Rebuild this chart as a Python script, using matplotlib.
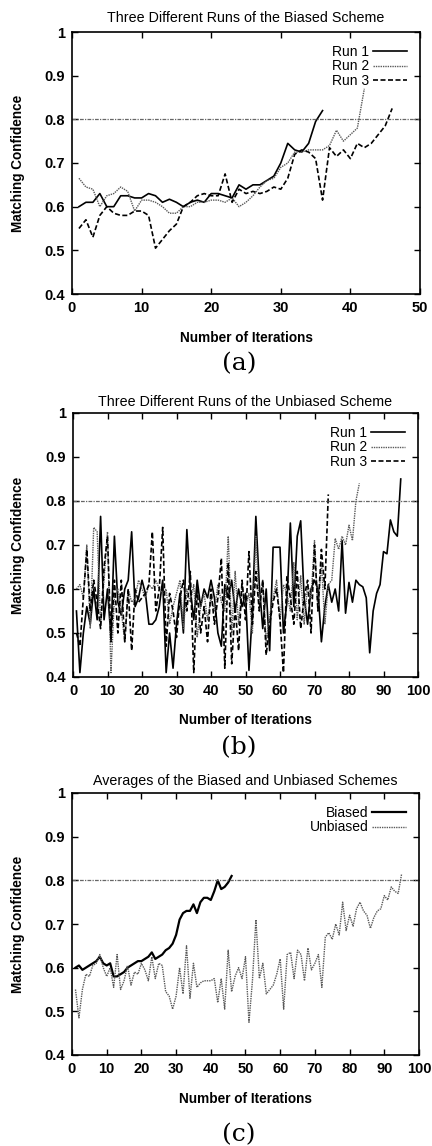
import matplotlib
matplotlib.use('Agg')
import matplotlib.pyplot as plt
import numpy as np

plt.rcParams['font.family'] = ['Liberation Sans', 'DejaVu Sans']

# (a) biased scheme, three runs
biased_run1 = [0.60, 0.61, 0.61, 0.63, 0.60, 0.60, 0.625, 0.625, 0.62, 0.62,
               0.63, 0.625, 0.61, 0.617, 0.61, 0.60, 0.61, 0.615, 0.61, 0.63,
               0.63, 0.625, 0.62, 0.65, 0.64, 0.65, 0.65, 0.66, 0.67, 0.70,
               0.745, 0.73, 0.725, 0.745, 0.795, 0.82]
biased_run2 = [0.665, 0.645, 0.64, 0.60, 0.625, 0.63, 0.645, 0.635, 0.59, 0.615,
               0.615, 0.61, 0.60, 0.585, 0.585, 0.60, 0.60, 0.61, 0.61, 0.615,
               0.615, 0.61, 0.62, 0.60, 0.61, 0.625, 0.645, 0.66, 0.665, 0.69,
               0.70, 0.725, 0.725, 0.73, 0.73, 0.73, 0.74, 0.775, 0.75, 0.765,
               0.78, 0.87]
biased_run3 = [0.55, 0.57, 0.53, 0.58, 0.60, 0.585, 0.58, 0.58, 0.59, 0.59,
               0.58, 0.505, 0.525, 0.545, 0.56, 0.60, 0.61, 0.625, 0.63, 0.625,
               0.625, 0.675, 0.61, 0.64, 0.63, 0.635, 0.63, 0.635, 0.645, 0.64,
               0.665, 0.72, 0.73, 0.725, 0.71, 0.615, 0.735, 0.715, 0.73, 0.71,
               0.745, 0.735, 0.745, 0.765, 0.785, 0.825]

# (b) unbiased scheme, three runs
unbiased_run1 = [0.55, 0.41, 0.50, 0.56, 0.52, 0.60, 0.53, 0.765, 0.53, 0.60,
                 0.49, 0.72, 0.57, 0.54, 0.60, 0.62, 0.73, 0.56, 0.58, 0.62,
                 0.59, 0.52, 0.52, 0.53, 0.56, 0.62, 0.41, 0.50, 0.42, 0.52,
                 0.59, 0.50, 0.735, 0.60, 0.53, 0.62, 0.56, 0.60, 0.58, 0.62,
                 0.58, 0.50, 0.47, 0.61, 0.58, 0.62, 0.55, 0.60, 0.56, 0.59,
                 0.415, 0.55, 0.765, 0.61, 0.51, 0.60, 0.46, 0.695, 0.695, 0.695,
                 0.50, 0.57, 0.75, 0.56, 0.72, 0.755, 0.58, 0.52, 0.60, 0.62,
                 0.60, 0.48, 0.56, 0.61, 0.57, 0.60, 0.55, 0.71, 0.545, 0.615,
                 0.57, 0.62, 0.61, 0.605, 0.58, 0.455, 0.55, 0.59, 0.61, 0.685,
                 0.68, 0.757, 0.73, 0.72, 0.85]
unbiased_run2 = [0.60, 0.61, 0.58, 0.70, 0.51, 0.74, 0.73, 0.52, 0.62, 0.73,
                 0.41, 0.58, 0.60, 0.55, 0.48, 0.60, 0.57, 0.58, 0.62, 0.60,
                 0.58, 0.61, 0.60, 0.62, 0.60, 0.59, 0.60, 0.52, 0.56, 0.59,
                 0.62, 0.51, 0.60, 0.57, 0.61, 0.49, 0.56, 0.59, 0.53, 0.58,
                 0.55, 0.61, 0.57, 0.55, 0.72, 0.50, 0.64, 0.52, 0.61, 0.56,
                 0.59, 0.50, 0.72, 0.56, 0.62, 0.48, 0.54, 0.58, 0.62, 0.53,
                 0.61, 0.59, 0.55, 0.66, 0.53, 0.63, 0.52, 0.61, 0.58, 0.71,
                 0.55, 0.66, 0.52, 0.61, 0.62, 0.715, 0.69, 0.72, 0.70, 0.745,
                 0.71, 0.80, 0.84]
unbiased_run3 = [0.50, 0.47, 0.58, 0.69, 0.55, 0.62, 0.57, 0.51, 0.65, 0.72,
                 0.48, 0.62, 0.50, 0.62, 0.48, 0.60, 0.46, 0.60, 0.57, 0.58,
                 0.59, 0.61, 0.73, 0.55, 0.60, 0.74, 0.47, 0.59, 0.55, 0.49,
                 0.58, 0.62, 0.55, 0.64, 0.41, 0.60, 0.50, 0.56, 0.48, 0.60,
                 0.52, 0.58, 0.67, 0.42, 0.66, 0.43, 0.56, 0.46, 0.62, 0.53,
                 0.685, 0.52, 0.64, 0.55, 0.62, 0.45, 0.52, 0.57, 0.60, 0.53,
                 0.41, 0.63, 0.58, 0.52, 0.64, 0.51, 0.58, 0.62, 0.50, 0.70,
                 0.55, 0.69, 0.60, 0.815]

# (c) averages
avg_biased = [0.60, 0.605, 0.595, 0.60, 0.605, 0.61, 0.615, 0.625, 0.61, 0.605,
              0.61, 0.58, 0.58, 0.585, 0.59, 0.60, 0.605, 0.61, 0.615, 0.615,
              0.62, 0.625, 0.635, 0.62, 0.625, 0.63, 0.64, 0.645, 0.655, 0.675,
              0.71, 0.725, 0.73, 0.73, 0.745, 0.725, 0.75, 0.76, 0.76, 0.755,
              0.775, 0.80, 0.78, 0.785, 0.795, 0.81]
avg_unbiased = [0.55, 0.485, 0.55, 0.585, 0.58, 0.605, 0.61, 0.63, 0.60, 0.58,
                0.60, 0.555, 0.63, 0.55, 0.57, 0.605, 0.56, 0.59, 0.585, 0.61,
                0.595, 0.57, 0.625, 0.575, 0.61, 0.605, 0.545, 0.535, 0.505, 0.535,
                0.60, 0.54, 0.65, 0.53, 0.61, 0.555, 0.565, 0.57, 0.57, 0.57,
                0.575, 0.52, 0.575, 0.505, 0.64, 0.545, 0.58, 0.60, 0.575, 0.625,
                0.475, 0.57, 0.71, 0.575, 0.61, 0.54, 0.55, 0.56, 0.585, 0.62,
                0.505, 0.63, 0.635, 0.575, 0.64, 0.63, 0.57, 0.645, 0.595, 0.61,
                0.63, 0.555, 0.67, 0.68, 0.665, 0.70, 0.675, 0.75, 0.685, 0.72,
                0.695, 0.735, 0.75, 0.73, 0.72, 0.69, 0.715, 0.73, 0.735, 0.765,
                0.755, 0.785, 0.775, 0.77, 0.815]

threshold = 0.8
y_ticks = [0.4, 0.5, 0.6, 0.7, 0.8, 0.9, 1.0]
y_ticklabels = ['0.4', '0.5', '0.6', '0.7', '0.8', '0.9', '1']

solid = dict(color='black', lw=1.2, ls='-')
dotted = dict(color='0.35', lw=1.0, ls=(0, (1, 0.7)))
dashed = dict(color='black', lw=1.2, ls=(0, (3, 1.5)))

W, H = 432, 1146
fig = plt.figure(figsize=(W / 100, H / 100), dpi=100)


def make_axes(left, right, top, bottom):
    return fig.add_axes([left / W, 1 - bottom / H, (right - left) / W, (bottom - top) / H])


def style(ax, xmax, xstep, title, title_y, xlab_y, cap, cap_y):
    ax.set_xlim(0, xmax)
    ax.set_ylim(0.4, 1.0)
    ax.set_xticks(np.arange(0, xmax + 1, xstep))
    ax.set_yticks(y_ticks)
    ax.set_yticklabels(y_ticklabels)
    ax.axhline(threshold, color='0.4', lw=0.9, ls=(0, (3, 1, 1, 1)))
    ax.tick_params(direction='in', top=True, right=True, length=4, width=1,
                   labelsize=10.5, pad=5)
    for lab in ax.get_xticklabels() + ax.get_yticklabels():
        lab.set_fontweight('bold')
    for sp in ax.spines.values():
        sp.set_linewidth(1.2)
    ax.set_ylabel('Matching Confidence', fontsize=9.8, fontweight='bold')
    pos = ax.get_position()
    ax.yaxis.set_label_coords((25 / W - pos.x0) / pos.width, 0.5)
    cx = pos.x0 + pos.width / 2
    fig.text(cx, 1 - title_y / H, title, ha='center', va='center', fontsize=10.3)
    fig.text(cx, 1 - xlab_y / H, 'Number of Iterations', ha='center', va='center',
             fontsize=9.8, fontweight='bold')
    fig.text(cx - 0.015, 1 - cap_y / H, cap, ha='center', va='center', fontsize=18,
             family=['DejaVu Serif'])
    ax.legend(loc='upper right', frameon=False, markerfirst=False, fontsize=10,
              handlelength=2.45, labelspacing=0.02, borderaxespad=0.55,
              handletextpad=0.25)


# panel (a)
ax = make_axes(72, 420, 32, 294)
ax.plot(np.arange(1, len(biased_run1) + 1), biased_run1, label='Run 1', **solid)
ax.plot(np.arange(1, len(biased_run2) + 1), biased_run2, label='Run 2', **dotted)
ax.plot(np.arange(1, len(biased_run3) + 1), biased_run3, label='Run 3', **dashed)
style(ax, 50, 10, 'Three Different Runs of the Biased Scheme', 18, 338, '(a)', 364)

# panel (b)
ax = make_axes(73, 418, 413, 677)
ax.plot(np.arange(1, len(unbiased_run1) + 1), unbiased_run1, label='Run 1', **solid)
ax.plot(np.arange(1, len(unbiased_run2) + 1), unbiased_run2, label='Run 2', **dotted)
ax.plot(np.arange(1, len(unbiased_run3) + 1), unbiased_run3, label='Run 3', **dashed)
style(ax, 100, 10, 'Three Different Runs of the Unbiased Scheme', 402, 720, '(b)', 748)

# panel (c)
ax = make_axes(72, 419, 793, 1055)
ax.plot(np.arange(1, len(avg_biased) + 1), avg_biased, label='Biased',
        color='black', lw=1.6)
ax.plot(np.arange(1, len(avg_unbiased) + 1), avg_unbiased, label='Unbiased', **dotted)
style(ax, 100, 10, 'Averages of the Biased and Unbiased Schemes', 781, 1099, '(c)', 1135)

fig.savefig('out.png', dpi=100)
